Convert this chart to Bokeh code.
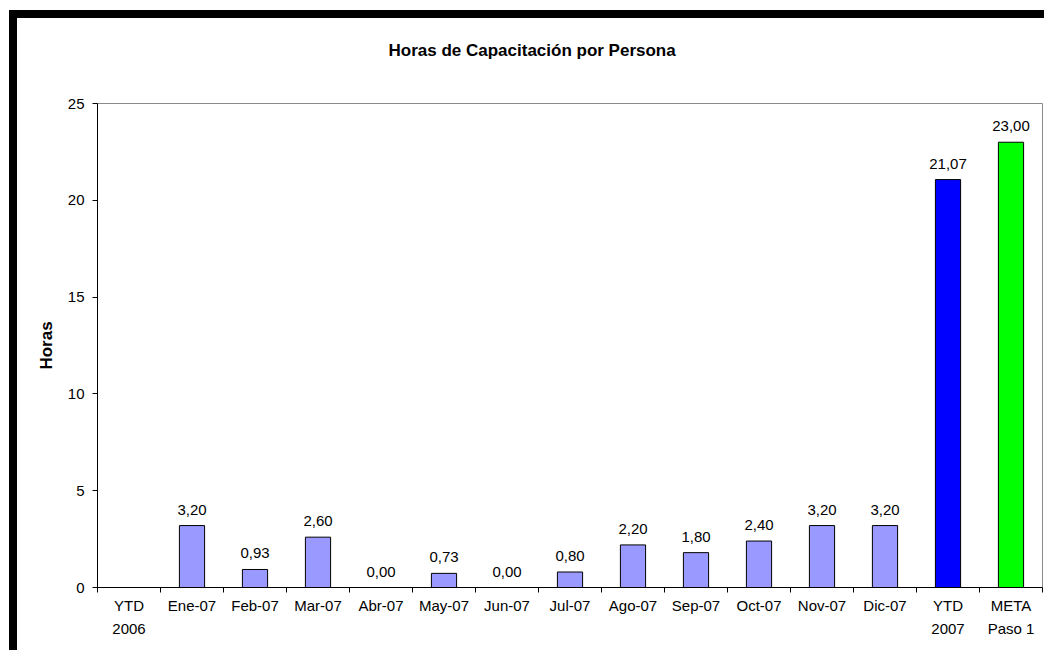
from bokeh.plotting import figure
from bokeh.models import ColumnDataSource, Range1d, FixedTicker, Title, LinearAxis
from bokeh.core.properties import value
from bokeh.embed import file_html
from bokeh.resources import INLINE

# Training hours per person, by period
categories = ["YTD\n2006", "Ene-07", "Feb-07", "Mar-07", "Abr-07", "May-07", "Jun-07",
              "Jul-07", "Ago-07", "Sep-07", "Oct-07", "Nov-07", "Dic-07", "YTD\n2007", "META\nPaso 1"]
horas = [None, 3.20, 0.93, 2.60, 0.00, 0.73, 0.00, 0.80, 2.20, 1.80, 2.40, 3.20, 3.20, 21.07, 23.00]
colores = ["#9999FF"] * 13 + ["#0000FF", "#00FF00"]
y_ticks = [0, 5, 10, 15, 20, 25]

FONT = "Liberation Sans"
TXT = "15px"

xs = list(range(len(categories)))
bx, by, bc, lbl = [], [], [], []
for i, v in enumerate(horas):
    if v is None:
        continue
    bx.append(i)
    by.append(v)
    bc.append(colores[i])
    lbl.append(f"{v:.2f}".replace(".", ","))

src = ColumnDataSource(dict(x=bx, top=by, color=bc, label=lbl))

p = figure(width=1035, height=640,
           x_range=Range1d(-0.5, len(categories) - 0.5), y_range=Range1d(0, 25),
           output_backend="svg", toolbar_location=None,
           min_border_left=80, min_border_right=10, min_border_top=85, min_border_bottom=71)
p.styles = {"margin-left": "9px", "margin-top": "10px",
            "border-left": "8px solid black", "border-top": "8px solid black"}

# chart title, lifted off the frame by a blank spacer title
p.title = Title(text="Horas de Capacitación por Persona", align="left", offset=291,
                text_font=FONT, text_font_size="17px", text_font_style="bold",
                text_color="black")
p.add_layout(Title(text=" ", text_font=FONT, text_font_size="24px"), "above")

p.background_fill_color = "white"
p.border_fill_color = "white"
p.outline_line_color = "#8a8a8a"
p.outline_line_width = 1
p.xgrid.visible = False
p.ygrid.visible = False

p.vbar(x="x", top="top", width=0.4, bottom=0, fill_color="color",
       line_color="black", line_width=1, source=src)
p.text(x="x", y="top", text="label", source=src, text_align="center",
       text_baseline="alphabetic", y_offset=-16, text_font=value(FONT),
       text_font_size=value(TXT), text_color="black")

first_line = {i: c.split("\n")[0] for i, c in enumerate(categories)}
second_line = {i: (c.split("\n")[1] if "\n" in c else "") for i, c in enumerate(categories)}

xa = p.xaxis[0]
xa.ticker = FixedTicker(ticks=xs, minor_ticks=[i - 0.5 for i in range(len(categories) + 1)])
xa.major_label_overrides = first_line
xa.major_tick_line_color = None
xa.minor_tick_line_color = "black"
xa.minor_tick_out = 5
xa.minor_tick_in = 0
xa.axis_line_color = "black"
xa.major_label_text_font = FONT
xa.major_label_text_font_size = TXT
xa.major_label_text_color = "black"
xa.major_label_standoff = 3

# second row of the two-line category labels
xa2 = LinearAxis(ticker=FixedTicker(ticks=xs, minor_ticks=[]),
                 major_label_overrides=second_line,
                 axis_line_color=None, major_tick_line_color=None, minor_tick_line_color=None,
                 major_label_text_font=FONT, major_label_text_font_size=TXT,
                 major_label_text_color="black", major_label_standoff=-3)
p.add_layout(xa2, "below")

ya = p.yaxis[0]
ya.ticker = FixedTicker(ticks=y_ticks, minor_ticks=[])
ya.major_tick_out = 5
ya.major_tick_in = 0
ya.axis_line_color = "black"
ya.major_tick_line_color = "black"
ya.major_label_text_font = FONT
ya.major_label_text_font_size = TXT
ya.major_label_text_color = "black"
ya.major_label_standoff = 8
ya.axis_label = "Horas"
ya.axis_label_text_font = FONT
ya.axis_label_text_font_size = "17px"
ya.axis_label_text_font_style = "bold"
ya.axis_label_text_color = "black"
ya.axis_label_standoff = 9

open("out.html", "w").write(file_html(p, INLINE))
